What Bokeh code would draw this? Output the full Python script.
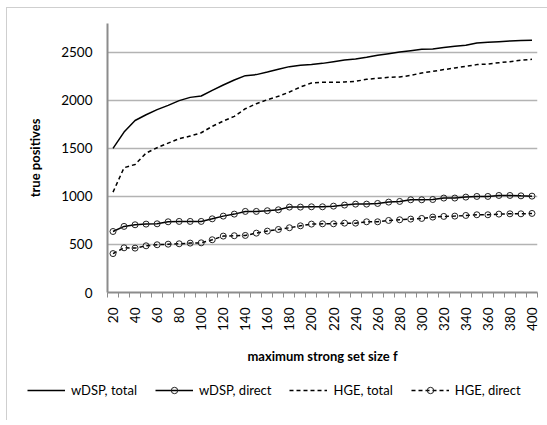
from bokeh.plotting import figure
from bokeh.models import FixedTicker, Legend, LegendItem, Range1d
from bokeh.layouts import column, row
from bokeh.embed import file_html
from bokeh.resources import INLINE

f = [20, 30, 40, 50, 60, 70, 80, 90, 100, 110, 120, 130, 140, 150, 160, 170, 180, 190, 200,
     210, 220, 230, 240, 250, 260, 270, 280, 290, 300, 310, 320, 330, 340, 350, 360, 370, 380, 390, 400]
f_labels = [20, 40, 60, 80, 100, 120, 140, 160, 180, 200, 220, 240, 260, 280, 300, 320, 340, 360, 380, 400]
y_ticks = [0, 500, 1000, 1500, 2000, 2500]

wdsp_total = [1500, 1670, 1790, 1850, 1903, 1948, 1997, 2031, 2045, 2104, 2160, 2212, 2257, 2268,
              2295, 2323, 2351, 2365, 2372, 2385, 2403, 2420, 2431, 2448, 2469, 2486, 2503, 2517,
              2531, 2535, 2549, 2562, 2573, 2597, 2604, 2611, 2618, 2622, 2625]
wdsp_direct = [635, 688, 705, 712, 715, 736, 740, 740, 740, 767, 795, 816, 844, 844, 851, 861, 889,
               889, 892, 892, 899, 910, 920, 920, 927, 941, 948, 965, 965, 968, 983, 983, 993, 1000,
               1000, 1010, 1010, 1006, 1003]
hge_total = [1045, 1299, 1333, 1451, 1507, 1555, 1601, 1628, 1663, 1729, 1785, 1833, 1913, 1965,
             2007, 2042, 2087, 2139, 2181, 2188, 2188, 2191, 2198, 2219, 2229, 2240, 2243, 2260,
             2285, 2302, 2320, 2337, 2354, 2372, 2378, 2392, 2403, 2417, 2427]
hge_direct = [405, 465, 462, 486, 497, 503, 507, 514, 517, 549, 587, 591, 594, 618, 639, 656, 674,
              694, 712, 715, 715, 722, 722, 736, 736, 750, 757, 764, 771, 785, 792, 795, 802, 809,
              809, 816, 819, 819, 823]

FONT = "Lato"
DASH = "4 3"
step = f[1] - f[0]
bounds = [v - step / 2 for v in f] + [f[-1] + step / 2]

p = figure(width=540, height=362, output_backend="svg", toolbar_location=None,
           x_range=Range1d(bounds[0], bounds[-1]), y_range=Range1d(0, 2800),
           min_border_left=100, min_border_top=15, min_border_right=10, min_border_bottom=78)
p.outline_line_color = None
p.background_fill_color = "white"
p.border_fill_color = "white"

# axes
p.xaxis.ticker = FixedTicker(ticks=f_labels, minor_ticks=bounds)
p.xaxis.major_tick_out = 0
p.xaxis.major_tick_in = 0
p.xaxis.minor_tick_out = 5
p.xaxis.minor_tick_in = 0
p.xaxis.minor_tick_line_color = "#8c8c8c"
p.xaxis.major_label_orientation = 1.5708
p.xaxis.major_label_standoff = 10
p.xaxis.axis_label = "maximum strong set size f"
p.xaxis.axis_label_standoff = 14

p.yaxis.ticker = FixedTicker(ticks=y_ticks)
p.yaxis.major_tick_out = 0
p.yaxis.major_tick_in = 0
p.yaxis.minor_tick_line_color = None
p.yaxis.major_label_standoff = 15
p.yaxis.axis_label = "true positives"
p.yaxis.axis_label_standoff = 15

for ax in (p.xaxis, p.yaxis):
    ax.axis_line_color = "#8c8c8c"
    ax.axis_line_width = 2
    ax.major_label_text_font = FONT
    ax.major_label_text_font_size = "13.5px"
    ax.major_label_text_color = "#000000"
    ax.axis_label_text_font = FONT
    ax.axis_label_text_font_size = "13px"
    ax.axis_label_text_font_style = "bold"
    ax.axis_label_text_color = "#000000"

p.xgrid.grid_line_color = None
p.ygrid.ticker = FixedTicker(ticks=y_ticks[1:])
p.ygrid.grid_line_color = "#b3b3b3"
p.ygrid.grid_line_width = 1.5

p.line(f, wdsp_total, line_color="black", line_width=1.5)
p.line(f, wdsp_direct, line_color="black", line_width=1.5)
p.scatter(f, wdsp_direct, size=6, marker="circle", fill_alpha=0, line_color="#222222", line_width=1)
p.line(f, hge_total, line_color="black", line_width=1.5, line_dash=DASH)
p.line(f, hge_direct, line_color="black", line_width=1.5, line_dash=DASH)
p.scatter(f, hge_direct, size=6, marker="circle", fill_alpha=0, line_color="#222222", line_width=1)

# legend strip: a separate figure whose view range lies outside the data, so only the legend shows
lg = figure(width=540, height=50, output_backend="svg", toolbar_location=None,
            x_axis_type=None, y_axis_type=None, x_range=Range1d(-2, -1), y_range=Range1d(-2, -1),
            min_border_left=0, min_border_right=0, min_border_top=0, min_border_bottom=0)
lg.outline_line_color = None
lg.xgrid.grid_line_color = None
lg.ygrid.grid_line_color = None
s1 = lg.line(f, wdsp_total, line_color="black", line_width=1.5)
s2l = lg.line(f, wdsp_direct, line_color="black", line_width=1.5)
s2m = lg.scatter(f, wdsp_direct, size=6, marker="circle", fill_alpha=0, line_color="#222222", line_width=1)
s3 = lg.line(f, hge_total, line_color="black", line_width=1.5, line_dash=DASH)
s4l = lg.line(f, hge_direct, line_color="black", line_width=1.5, line_dash=DASH)
s4m = lg.scatter(f, hge_direct, size=6, marker="circle", fill_alpha=0, line_color="#222222", line_width=1)

legend = Legend(items=[
    LegendItem(label="wDSP, total", renderers=[s1]),
    LegendItem(label="wDSP, direct", renderers=[s2l, s2m]),
    LegendItem(label="HGE, total", renderers=[s3]),
    LegendItem(label="HGE, direct", renderers=[s4l, s4m]),
], orientation="horizontal", location=(20, 22))
legend.glyph_width = 38
legend.glyph_height = 16
legend.label_height = 16
legend.label_standoff = 6
legend.spacing = 18
legend.padding = 0
legend.margin = 0
legend.label_text_font = FONT
legend.label_text_font_size = "13px"
legend.label_text_color = "#000000"
legend.border_line_color = None
legend.background_fill_alpha = 0
lg.add_layout(legend)

layout = column(p, row(lg, spacing=0), spacing=0, margin=(7, 0, 0, 6))
layout.styles = {"border-top": "1px solid #cfcfcf", "border-left": "1px solid #cfcfcf"}

open("out.html", "w").write(file_html(layout, INLINE))
